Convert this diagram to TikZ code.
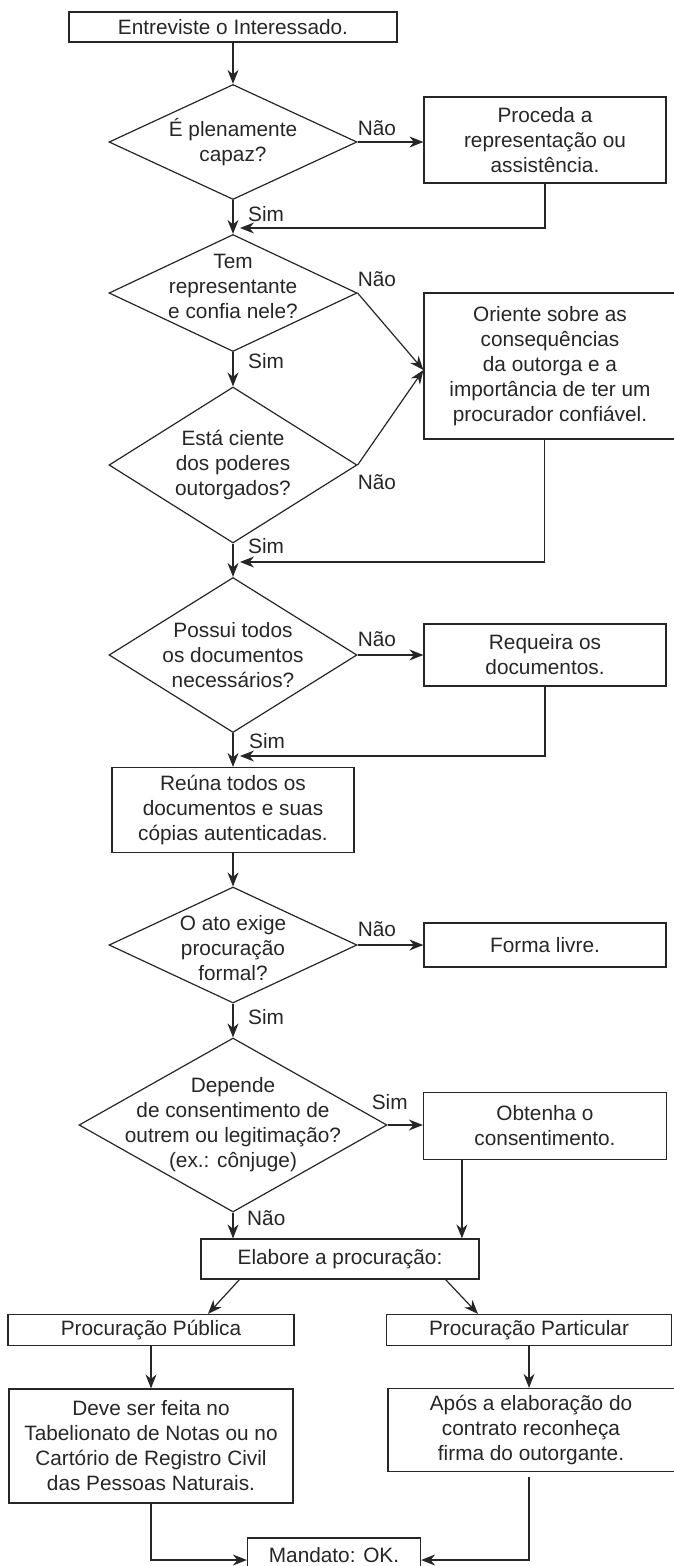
\documentclass[tikz,border=0pt]{standalone}
\usepackage{fontspec}
\setmainfont{Liberation Sans}
\usepackage{tikz}
\usetikzlibrary{shapes}
\usetikzlibrary{shapes.geometric}
\usetikzlibrary{arrows.meta}
\usetikzlibrary{positioning}

\definecolor{linec}{HTML}{262626}
\definecolor{textc}{HTML}{262626}
\newcommand{\fsize}{\fontsize{20.8}{25}\selectfont}

\tikzset{
  box/.style={draw=linec, line width=1.2pt, rectangle, inner sep=0pt, align=center, font=\fsize, text=textc},
  decision/.style={draw=linec, line width=1.2pt, diamond, inner sep=0pt},
  dtext/.style={font=\fsize, text=textc, align=center, inner sep=0pt},
  lbl/.style={font=\fsize, text=textc, inner sep=0pt},
  arr/.style={draw=linec, line width=1.2pt, -{Stealth[length=14pt,width=11pt,inset=4.5pt]}},
}

\begin{document}
\begin{tikzpicture}[x=1pt,y=-1pt]
\useasboundingbox (0,0) rectangle (673,1566);

% coluna principal
\node[box, minimum width=328pt, minimum height=30pt] (start) at (233,27) {Entreviste o Interessado.};
\node[decision, minimum width=248pt, minimum height=115pt,
  label={[dtext]center:{É plenamente\\capaz?}}] (d1) at (233,142) {};
\node[decision, minimum width=248pt, minimum height=117pt,
  label={[dtext,yshift=7pt]center:{Tem\\representante\\e confia nele?}}] (d2) at (233,293) {};
\node[decision, minimum width=248pt, minimum height=156pt,
  label={[dtext]center:{Está ciente\\dos poderes\\outorgados?}}] (d3) at (233,465) {};
\node[decision, minimum width=248pt, minimum height=155pt,
  label={[dtext]center:{Possui todos\\os documentos\\necessários?}}] (d4) at (233,655) {};
\node[box, minimum width=242pt, minimum height=85pt] (reuna) at (233,810) {Reúna todos os\\documentos e suas\\cópias autenticadas.};
\node[decision, minimum width=248pt, minimum height=116pt,
  label={[dtext,yshift=-3pt]center:{O ato exige\\procuração\\formal?}}] (d5) at (233,945) {};
\node[decision, minimum width=308pt, minimum height=174pt,
  label={[dtext]center:{Depende\\de consentimento de\\outrem ou legitimação?\\(ex.: cônjuge)}}] (d6) at (233,1125) {};

% coluna da direita
\node[box, minimum width=242pt, minimum height=86pt] (proc) at (545,140) {Proceda a\\representação ou\\assistência.};
\node[box, minimum width=260pt, minimum height=146pt] (orient) at (554,366) {\hspace*{-8pt}Oriente sobre as\\\hspace*{-8pt}consequências\\\hspace*{-8pt}da outorga e a\\\hspace*{-8pt}importância de ter um\\\hspace*{-8pt}procurador confiável.};
\node[box, minimum width=242pt, minimum height=62pt] (req) at (545,655) {Requeira os\\documentos.};
\node[box, minimum width=242pt, minimum height=44pt] (livre) at (545,945) {Forma livre.};
\node[box, minimum width=243pt, minimum height=67pt] (obt) at (545,1126) {Obtenha o\\consentimento.};

% procuracao
\node[box, minimum width=278pt, minimum height=40pt] (elab) at (340,1259) {Elabore a procuração:};
\node[box, minimum width=286pt, minimum height=31pt] (pub) at (151,1330) {Procuração Pública};
\node[box, minimum width=285pt, minimum height=31pt] (part) at (529,1330) {Procuração Particular};
\node[box, minimum width=284pt, minimum height=114pt] (deve) at (151,1446) {Deve ser feita no\\Tabelionato de Notas ou no\\Cartório de Registro Civil\\das Pessoas Naturais.};
\node[box, minimum width=294pt, minimum height=83pt] (apos) at (535,1430) {\hspace*{-8pt}Após a elaboração do\\\hspace*{-8pt}contrato reconheça\\\hspace*{-8pt}firma do outorgante.};
\node[box, minimum width=173pt, minimum height=34pt] (mand) at (334,1555) {Mandato: OK.};

% rotulos
\node[lbl, anchor=south west] (n1) at ([yshift=6pt]d1.east) {Não};
\node[lbl, anchor=north west] (s1) at ([xshift=15pt,yshift=-6pt]d1.south) {Sim};
\node[lbl, anchor=south west] (n2) at ([yshift=6pt]d2.east) {Não};
\node[lbl, anchor=north west] (s2) at ([xshift=15pt,yshift=-1pt]d2.south) {Sim};
\node[lbl, anchor=north west] (n3) at ([yshift=-9pt]d3.east) {Não};
\node[lbl, anchor=north west] (s3) at ([xshift=15pt,yshift=5pt]d3.south) {Sim};
\node[lbl, anchor=south west] (n4) at ([yshift=8pt]d4.east) {Não};
\node[lbl, anchor=north west] (s4) at ([xshift=16pt]d4.south) {Sim};
\node[lbl, anchor=south west] (n5) at ([yshift=8pt]d5.east) {Não};
\node[lbl, anchor=north west] (s5) at ([xshift=15pt,yshift=-6pt]d5.south) {Sim};
\node[lbl, anchor=south west] (s6) at ([xshift=-16pt,yshift=15pt]d6.east) {Sim};
\node[lbl, anchor=north west] (n6) at ([xshift=14pt,yshift=2pt]d6.south) {Não};

\coordinate (j1) at (240,228);
\coordinate (j2) at (240,562);
\coordinate (j3) at (240,756);

% setas
\draw[arr] (start) -- (d1);
\draw[arr] (d1) -- (d2);
\draw[arr] (d2) -- (d3);
\draw[arr] (d3) -- (d4);
\draw[arr] (d4) -- (reuna);
\draw[arr] (reuna) -- (d5);
\draw[arr] (d5) -- (d6);
\draw[arr] (d6.south) -- (d6.south |- elab.north);

\draw[arr] (d1.east) -- (d1.east -| proc.west);
\draw[arr] (d2.east) -- ([yshift=-4pt]orient.west);
\draw[arr] (d3.east) -- ([yshift=-4pt]orient.west);
\draw[arr] (d4.east) -- (d4.east -| req.west);
\draw[arr] (d5.east) -- (d5.east -| livre.west);
\draw[arr] (d6.east) -- (d6.east -| obt.west);

\draw[arr] (proc.south) |- (j1);
\draw[arr] ([xshift=121pt]orient.south west) |- (j2);
\draw[arr] (req.south) |- (j3);
\draw[arr] ([xshift=39pt]obt.south west) -- ([xshift=39pt]obt.south west |- elab.north);

\draw[arr] ([xshift=39pt]elab.south west) -- ([xshift=57pt]pub.north);
\draw[arr] ([xshift=-34pt]elab.south east) -- ([xshift=-51pt]part.north);
\draw[arr] (pub) -- (deve);
\draw[arr] (part.south) -- (part.south |- apos.north);
\draw[arr] (deve.south) |- ([yshift=-5pt]mand.west);
\draw[arr, shorten <=5pt] (part.south |- apos.south) |- ([yshift=-5pt]mand.east);
\end{tikzpicture}
\end{document}
